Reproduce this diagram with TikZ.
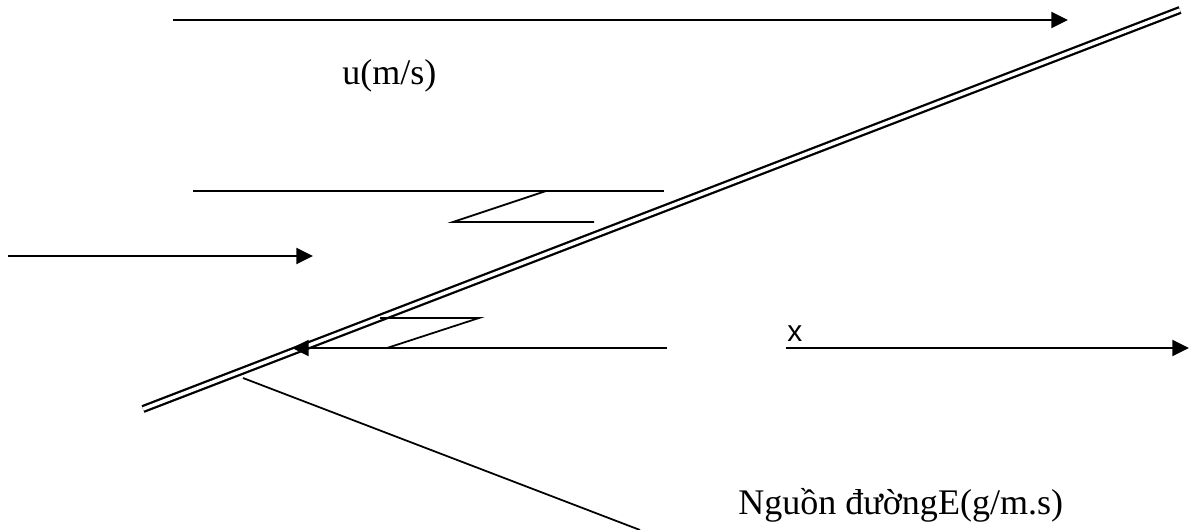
\documentclass[tikz,border=0pt]{standalone}
\usepackage{fontspec}
\setmainfont{Liberation Serif}
\setsansfont{Liberation Sans}
\usetikzlibrary{arrows.meta}

\begin{document}
\begin{tikzpicture}[x=0.02cm,y=-0.02cm,>={Triangle[length=9.5pt,width=9pt]},
    flow/.style={line width=1.6pt},
    ray/.style={line width=1pt},
    bank/.style={double,line width=1.3pt,double distance=2pt},
    lbl/.style={inner sep=0pt,anchor=base west,font=\fontsize{20.5}{24}\selectfont}]
  \useasboundingbox (0,0) rectangle (1189,530);
  % river bank (line source)
  \coordinate (bankS) at (143,409);
  \coordinate (bankN) at (1180,10);
  \draw[bank] (bankS) -- (bankN);
  % flow
  \coordinate (topL) at (173,20);
  \coordinate (topR) at (1068,20);
  \draw[flow,->] (topL) -- (topR);
  \node[lbl] (uLabel) at (342,85) {u(m/s)};
  \coordinate (midL) at (8,256);
  \coordinate (midR) at (313,256);
  \draw[flow,->] (midL) -- (midR);
  % upper plume edge
  \coordinate (edgeL) at (193,191);
  \coordinate (edgeR) at (664,191);
  \draw[ray] (edgeL) -- (edgeR);
  \coordinate (zigA) at (546,191);
  \coordinate (zigB) at (453,222);
  \coordinate (zigC) at (594,222);
  \draw[ray] (zigA) -- (zigB) -- (zigC);
  % lower edge
  \coordinate (lowR) at (667,348);
  \coordinate (lowL) at (292,348);
  \draw[flow,->] (lowR) -- (lowL);
  \coordinate (zagA) at (387,348);
  \coordinate (zagB) at (479,318);
  \coordinate (zagC) at (380,318);
  \draw[ray] (zagA) -- (zagB) -- (zagC);
  % x axis
  \coordinate (xS) at (786,348);
  \coordinate (xE) at (1189,348);
  \draw[flow,->] (xS) -- (xE);
  \node[inner sep=0pt,anchor=base west,font=\sffamily\fontsize{17}{20}\selectfont] (xLabel) at (787,341) {x};
  % source label
  \coordinate (srcA) at (243,378);
  \coordinate (srcB) at (640,530);
  \draw[ray] (srcA) -- (srcB);
  \node[lbl] (srcLabel) at (738,514) {Nguồn đườngE(g/m.s)};
\end{tikzpicture}
\end{document}
